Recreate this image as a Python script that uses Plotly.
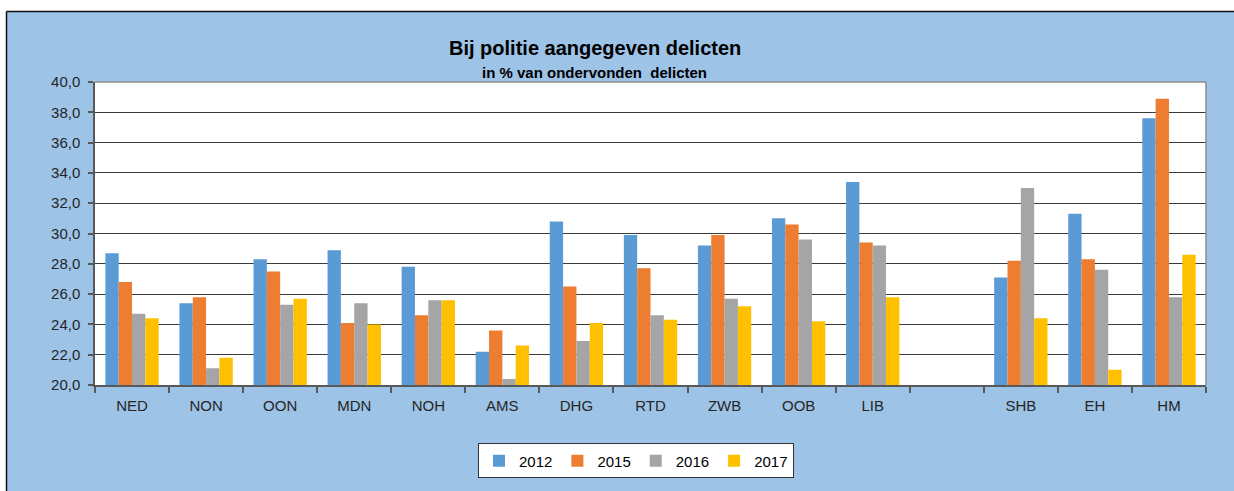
import plotly.graph_objects as go

categories = ["NED", "NON", "OON", "MDN", "NOH", "AMS", "DHG", "RTD", "ZWB", "OOB", "LIB", " ", "SHB", "EH", "HM"]
years = ["2012", "2015", "2016", "2017"]
v2012 = [28.7, 25.4, 28.3, 28.9, 27.8, 22.2, 30.8, 29.9, 29.2, 31.0, 33.4, None, 27.1, 31.3, 37.6]
v2015 = [26.8, 25.8, 27.5, 24.1, 24.6, 23.6, 26.5, 27.7, 29.9, 30.6, 29.4, None, 28.2, 28.3, 38.9]
v2016 = [24.7, 21.1, 25.3, 25.4, 25.6, 20.4, 22.9, 24.6, 25.7, 29.6, 29.2, None, 33.0, 27.6, 25.8]
v2017 = [24.4, 21.8, 25.7, 24.0, 25.6, 22.6, 24.1, 24.3, 25.2, 24.2, 25.8, None, 24.4, 21.0, 28.6]
colors = ["#5B9BD5", "#ED7D31", "#A5A5A5", "#FFC000"]
series = [v2012, v2015, v2016, v2017]

title = "Bij politie aangegeven delicten"
subtitle = "in % van ondervonden  delicten"

W, H = 1234, 491
L, R, T, B = 95, 1206, 82, 389
pw, ph = R - L, B - T

def px(x):
    return (x - L) / pw

def py(y):
    return (B - y) / ph

fig = go.Figure()
for name, vals, c in zip(years, series, colors):
    fig.add_trace(go.Bar(x=categories, y=vals, name=name, marker_color=c,
                         marker_line_width=0))

font_family = "Liberation Sans, Arial, sans-serif"
blue = "#9DC3E6"

shapes = [
    # white strips outside the chart border
    dict(type="rect", xref="paper", yref="paper", x0=px(-5), x1=px(1240), y0=py(10.5), y1=py(-5),
         fillcolor="white", line_width=0, layer="below"),
    dict(type="rect", xref="paper", yref="paper", x0=px(-5), x1=px(6.5), y0=py(500), y1=py(-5),
         fillcolor="white", line_width=0, layer="below"),
    # chart border
    dict(type="line", xref="paper", yref="paper", x0=px(6.5), x1=px(1240), y0=py(10.5), y1=py(10.5),
         line=dict(color="#111111", width=1.5)),
    dict(type="line", xref="paper", yref="paper", x0=px(6.5), x1=px(6.5), y0=py(10.5), y1=py(500),
         line=dict(color="#111111", width=1.5)),
    # plot area border top/right
    dict(type="line", xref="paper", yref="paper", x0=0, x1=1, y0=1, y1=1,
         line=dict(color="#8c8c8c", width=1.5)),
    dict(type="line", xref="paper", yref="paper", x0=1, x1=1, y0=0, y1=1,
         line=dict(color="#8c8c8c", width=1.5)),
]

annotations = [
    dict(text="<b>" + title + "</b>", xref="paper", yref="paper", x=px(595), y=py(48),
         xanchor="center", yanchor="middle", showarrow=False,
         font=dict(family=font_family, size=20, color="#000000")),
    dict(text="<b>" + subtitle + "</b>", xref="paper", yref="paper", x=px(594), y=py(72),
         xanchor="center", yanchor="middle", showarrow=False,
         font=dict(family=font_family, size=15, color="#000000")),
]

fig.update_layout(
    width=W, height=H,
    margin=dict(l=L, r=W - R, t=T, b=H - B, pad=0),
    paper_bgcolor=blue,
    plot_bgcolor="white",
    barmode="group",
    bargap=0.28,
    bargroupgap=0,
    separators=",.",
    font=dict(family=font_family, size=15, color="#262626"),
    shapes=shapes,
    annotations=annotations,
    showlegend=True,
    legend=dict(orientation="h", x=px(636), y=py(466), xanchor="center", yanchor="middle",
                bgcolor="white", bordercolor="#333333", borderwidth=1,
                font=dict(family=font_family, size=15, color="#000000"),
                itemwidth=30, traceorder="normal"),
)

fig.update_xaxes(
    type="category",
    showline=True, linecolor="#595959", linewidth=1.5,
    ticks="outside", tickson="boundaries", ticklen=6, tickcolor="#595959", tickwidth=1.5,
    showgrid=False,
    tickfont=dict(family=font_family, size=15, color="#262626"),
    ticklabelstandoff=6,
)
fig.update_yaxes(
    range=[20, 40], dtick=2, tick0=20, tickformat=".1f",
    showline=True, linecolor="#595959", linewidth=1.5,
    ticks="outside", ticklen=5, tickcolor="#595959", tickwidth=1.5,
    showgrid=True, gridcolor="#3a3a3a", gridwidth=1,
    tickfont=dict(family=font_family, size=15, color="#262626"),
    ticklabelstandoff=5,
    zeroline=False,
)

fig.write_html("out.html", config={"displayModeBar": False},
               post_script="document.body.style.margin='0';document.body.style.overflow='hidden';")
